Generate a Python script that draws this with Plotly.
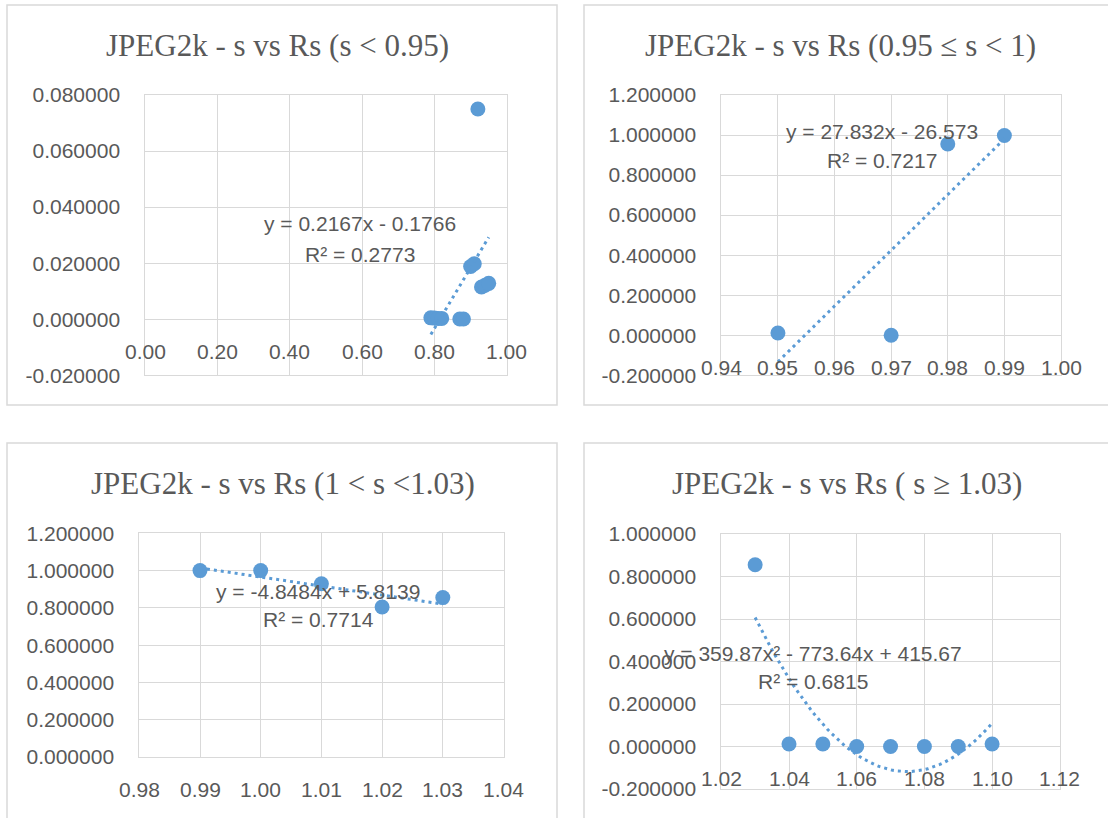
import numpy as np
import plotly.graph_objects as go

# ---------------- data ----------------
s_p1 = [0.79, 0.80, 0.81, 0.82, 0.87, 0.88, 0.90, 0.91, 0.92, 0.93, 0.94, 0.95]
rs_p1 = [0.0005, 0.0004, 0.0003, 0.0003, 0.0001, 0.0001, 0.0188, 0.0198, 0.0750, 0.0115, 0.0121, 0.0128]

s_p2 = [0.95, 0.97, 0.98, 0.99]
rs_p2 = [0.011, 0.0, 0.955, 0.998]

s_p3 = [0.99, 1.00, 1.01, 1.02, 1.03]
rs_p3 = [1.0, 1.0, 0.929, 0.805, 0.855]

s_p4 = [1.03, 1.04, 1.05, 1.06, 1.07, 1.08, 1.09, 1.10]
rs_p4 = [0.855, 0.012, 0.012, 0.0, 0.0, 0.0, 0.0, 0.012]

# trendline coefficients as printed on the chart (highest power first)
fit_p1 = [0.2167, -0.1766]
fit_p2 = [27.832, -26.573]
fit_p3 = [-4.8484, 5.8139]
fit_p4 = [359.87, -773.64, 415.67]

eq_p1 = ["y = 0.2167x - 0.1766", "R² = 0.2773"]
eq_p2 = ["y = 27.832x - 26.573", "R² = 0.7217"]
eq_p3 = ["y = -4.8484x + 5.8139", "R² = 0.7714"]
eq_p4 = ["y = 359.87x² - 773.64x + 415.67", "R² = 0.6815"]

titles = ["JPEG2k - s vs Rs (s < 0.95)",
          "JPEG2k - s vs Rs (0.95 ≤ s < 1)",
          "JPEG2k - s vs Rs (1 < s <1.03)",
          "JPEG2k - s vs Rs ( s ≥ 1.03)"]

xticks_p1 = [0.0, 0.2, 0.4, 0.6, 0.8, 1.0]
yticks_p1 = [-0.02, 0.0, 0.02, 0.04, 0.06, 0.08]
xticks_p2 = [0.94, 0.95, 0.96, 0.97, 0.98, 0.99, 1.00]
yticks_p2 = [-0.2, 0.0, 0.2, 0.4, 0.6, 0.8, 1.0, 1.2]
xticks_p3 = [0.98, 0.99, 1.00, 1.01, 1.02, 1.03, 1.04]
yticks_p3 = [0.0, 0.2, 0.4, 0.6, 0.8, 1.0, 1.2]
xticks_p4 = [1.02, 1.04, 1.06, 1.08, 1.10, 1.12]
yticks_p4 = [-0.2, 0.0, 0.2, 0.4, 0.6, 0.8, 1.0]

# ---------------- layout helpers ----------------
W, H = 1108, 818
BLUE = "#5B9BD5"
GRID = "#D9D9D9"
TXT = "#595959"
SANS = "Liberation Sans, Arial, sans-serif"
SERIF = "Liberation Serif, Times New Roman, serif"


def px_x(p):
    return p / W


def px_y(p):
    return 1 - p / H


def esc(t):
    return t.replace("<", "&lt;").replace(">", "&gt;")


panels = [
    dict(s=s_p1, rs=rs_p1, fit=fit_p1, eq=eq_p1, title=titles[0], xt=xticks_p1, yt=yticks_p1,
         dom_x=(145.3, 506.8), dom_y=(95, 375.3), box=(7, 557, 5, 405),
         title_pos=(277, 46), eq_pos=(360, 224, 254), xfmt="{:.2f}"),
    dict(s=s_p2, rs=rs_p2, fit=fit_p2, eq=eq_p2, title=titles[1], xt=xticks_p2, yt=yticks_p2,
         dom_x=(721.3, 1061), dom_y=(95, 375.3), box=(584, 1112, 5, 405),
         title_pos=(840, 46), eq_pos=(882, 131, 160), xfmt="{:.2f}"),
    dict(s=s_p3, rs=rs_p3, fit=fit_p3, eq=eq_p3, title=titles[2], xt=xticks_p3, yt=yticks_p3,
         dom_x=(139.3, 503.5), dom_y=(533.3, 757), box=(7, 557, 443, 830),
         title_pos=(283, 484), eq_pos=(318, 591, 619), xfmt="{:.2f}"),
    dict(s=s_p4, rs=rs_p4, fit=fit_p4, eq=eq_p4, title=titles[3], xt=xticks_p4, yt=yticks_p4,
         dom_x=(721.3, 1059.8), dom_y=(534, 789), box=(584, 1112, 443, 830),
         title_pos=(847, 484), eq_pos=(813, 653, 681), xfmt="{:.2f}"),
]

fig = go.Figure()
layout = dict(
    template="none",
    width=W, height=H, autosize=False,
    margin=dict(l=0, r=0, t=0, b=0, pad=0, autoexpand=False),
    paper_bgcolor="white", plot_bgcolor="white",
    showlegend=False,
    annotations=[], shapes=[],
)

for i, p in enumerate(panels, start=1):
    xa = "x" if i == 1 else f"x{i}"
    ya = "y" if i == 1 else f"y{i}"
    xkey = "xaxis" if i == 1 else f"xaxis{i}"
    ykey = "yaxis" if i == 1 else f"yaxis{i}"

    # markers
    fig.add_trace(go.Scatter(x=p["s"], y=p["rs"], mode="markers",
                             marker=dict(size=15, color=BLUE, line=dict(width=0)),
                             xaxis=xa, yaxis=ya, cliponaxis=False, hoverinfo="skip"))
    # trendline from printed coefficients over data range
    xs = np.linspace(min(p["s"]), max(p["s"]), 60)
    ys = np.polyval(p["fit"], xs)
    fig.add_trace(go.Scatter(x=xs, y=ys, mode="lines",
                             line=dict(color=BLUE, width=3, dash="3px,4px"),
                             xaxis=xa, yaxis=ya, hoverinfo="skip"))

    xt, yt = p["xt"], p["yt"]
    layout[xkey] = dict(domain=[px_x(p["dom_x"][0]), px_x(p["dom_x"][1])],
                        anchor=ya, range=[xt[0], xt[-1]], automargin=False,
                        tickvals=xt, showticklabels=False,
                        showgrid=True, gridcolor=GRID, gridwidth=1,
                        zeroline=False, showline=True, mirror=True,
                        linecolor=GRID, linewidth=1, ticks="")
    layout[ykey] = dict(domain=[px_y(p["dom_y"][1]), px_y(p["dom_y"][0])],
                        anchor=xa, range=[yt[0], yt[-1]], automargin=False,
                        tickvals=yt, ticktext=[f"{v:.6f}" for v in yt],
                        tickfont=dict(family=SANS, size=21, color=TXT),
                        ticklabelstandoff=20,
                        showgrid=True, gridcolor=GRID, gridwidth=1,
                        zeroline=True, zerolinecolor=GRID, zerolinewidth=1,
                        showline=True, mirror=True,
                        linecolor=GRID, linewidth=1, ticks="")

    # x tick labels sit under the horizontal axis (crossing at y = 0)
    ycross = max(0.0, yt[0])
    for v in xt:
        layout["annotations"].append(dict(
            x=v, y=ycross, xref=xa, yref=ya, text=p["xfmt"].format(v),
            showarrow=False, xanchor="center", yanchor="middle", yshift=-32,
            font=dict(family=SANS, size=21, color=TXT)))

    # title
    layout["annotations"].append(dict(
        x=px_x(p["title_pos"][0]), y=px_y(p["title_pos"][1]), xref="paper", yref="paper",
        text=esc(p["title"]), showarrow=False, xanchor="center", yanchor="middle",
        font=dict(family=SERIF, size=31, color=TXT)))

    # equation + R²
    ex, ey1, ey2 = p["eq_pos"]
    for txt, yy in zip(p["eq"], (ey1, ey2)):
        layout["annotations"].append(dict(
            x=px_x(ex), y=px_y(yy), xref="paper", yref="paper", text=txt,
            showarrow=False, xanchor="center", yanchor="middle",
            font=dict(family=SANS, size=21, color=TXT)))

    # chart border
    bx0, bx1, by0, by1 = p["box"]
    layout["shapes"].append(dict(
        type="rect", xref="paper", yref="paper",
        x0=px_x(bx0), x1=px_x(bx1), y0=px_y(by1), y1=px_y(by0),
        line=dict(color=GRID, width=1.5), fillcolor="rgba(0,0,0,0)", layer="below"))

fig.update_layout(**layout)
fig.write_html("out.html",
               config=dict(displayModeBar=False, responsive=False),
               post_script="document.body.style.margin='0';document.body.style.overflow='hidden';")
